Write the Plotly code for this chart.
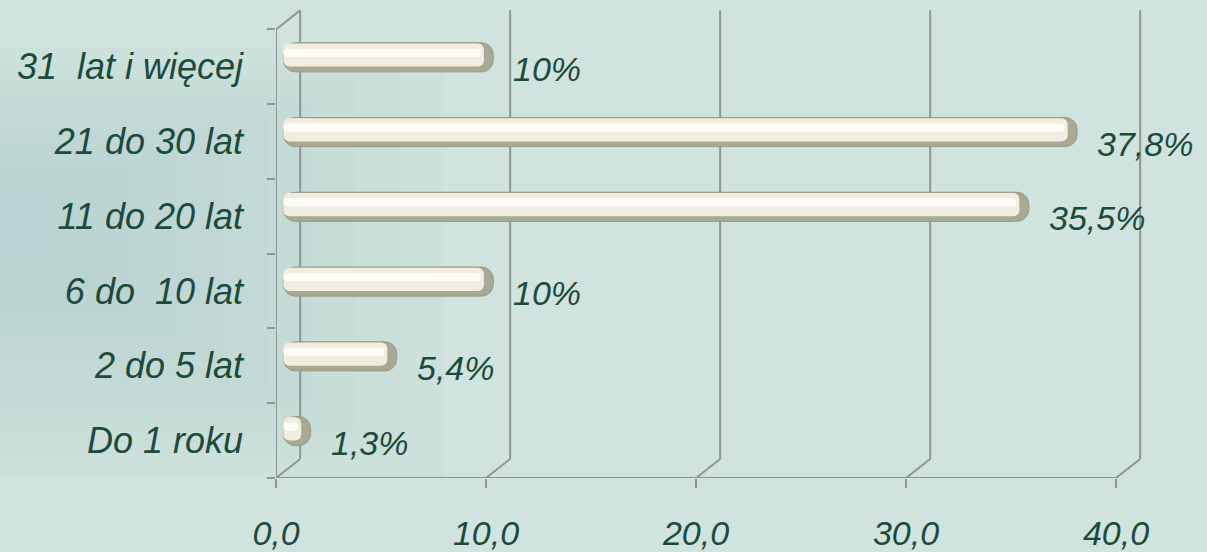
import plotly.graph_objects as go

# bottom to top, as drawn
categories = ["Do 1 roku", "2 do 5 lat", "6 do\u00a0 10 lat", "11 do 20 lat",
              "21 do 30 lat", "31\u00a0 lat i więcej"]
values = [1.3, 5.4, 10, 35.5, 37.8, 10]
x_ticks = [0, 10, 20, 30, 40]
x_tick_labels = ["0,0", "10,0", "20,0", "30,0", "40,0"]

TEXT = "#1c4a3c"
GRID = "#8e9692"
FONT = "Liberation Sans, Arial, sans-serif"

# fake 3d depth of the chart box, in axis units
DX = 1.15
DY = 0.255

BAR_W = 0.39
BODY_W = 0.31
HI_W = 0.11
BAR_START = 0.35

fig = go.Figure()

# cylinder: dark shell, bright body, highlight stripe
fig.add_trace(go.Bar(
    y=categories, x=values, base=BAR_START, orientation="h",
    width=BAR_W, offset=-BAR_W / 2 + DY / 2,
    marker=dict(color="#a9a892", line=dict(color="#9a9985", width=1), cornerradius=12),
    hoverinfo="skip",
))
fig.add_trace(go.Bar(
    y=categories, x=[v - 0.45 for v in values], base=BAR_START, orientation="h",
    width=BODY_W, offset=-BODY_W / 2 + DY / 2 + 0.03,
    marker=dict(color="#efeedf", line=dict(width=0), cornerradius=6),
    hoverinfo="skip",
))
fig.add_trace(go.Bar(
    y=categories, x=[v - 0.6 for v in values], base=BAR_START, orientation="h",
    width=HI_W, offset=-HI_W / 2 + DY / 2 + 0.06,
    marker=dict(color="#fdfdf6", line=dict(width=0), cornerradius=4),
    hoverinfo="skip",
))

shapes = []
# soft bluish shading on the left, built from nested faint rects (plot-area paper coords)
for i in range(10):
    shapes.append(dict(type="rect", xref="paper", yref="paper",
                       x0=-0.32, x1=-0.26 + 0.05 * i,
                       y0=0.45 - 0.05 * i, y1=0.6 + 0.035 * i,
                       fillcolor="#9fc0c8", opacity=0.05, line=dict(width=0), layer="below"))

line = dict(color=GRID, width=2)
bottom, top = -0.5, len(categories) - 0.5
# front floor edge and left wall
shapes.append(dict(type="line", xref="x", yref="y", x0=0, x1=x_ticks[-1], y0=bottom, y1=bottom, line=line))
shapes.append(dict(type="line", xref="x", yref="y", x0=0, x1=0, y0=bottom, y1=top, line=line))
shapes.append(dict(type="line", xref="x", yref="y", x0=0, x1=DX, y0=top, y1=top + DY, line=line))
# back wall gridlines + floor diagonals
for v in x_ticks:
    shapes.append(dict(type="line", xref="x", yref="y", x0=v + DX, x1=v + DX,
                       y0=bottom + DY, y1=top + DY, line=line, layer="below"))
    shapes.append(dict(type="line", xref="x", yref="y", x0=v, x1=v + DX,
                       y0=bottom, y1=bottom + DY, line=line, layer="below"))

annotations = []
for cat, v in zip(categories, values):
    annotations.append(dict(
        x=BAR_START + v, y=cat, xref="x", yref="y",
        text=f"{v:g}".replace(".", ",") + "%",
        showarrow=False, xanchor="left", yanchor="middle", xshift=18, yshift=-2,
        font=dict(family=FONT, size=34, color=TEXT, style="italic"),
    ))

fig.update_layout(
    width=1207,
    height=552,
    margin=dict(l=276, r=49, t=7, b=74),
    paper_bgcolor="#d0e3de",
    plot_bgcolor="rgba(0,0,0,0)",
    barmode="overlay",
    showlegend=False,
    shapes=shapes,
    annotations=annotations,
)
fig.update_xaxes(
    range=[0, 42],
    tickvals=x_ticks,
    ticktext=x_tick_labels,
    ticks="outside",
    ticklen=9,
    tickwidth=2,
    tickcolor=GRID,
    ticklabelstandoff=16,
    showgrid=False,
    zeroline=False,
    showline=False,
    automargin=False,
    tickfont=dict(family=FONT, size=34, color=TEXT, style="italic"),
)
fig.update_yaxes(
    type="category",
    categoryorder="array",
    categoryarray=categories,
    range=[-0.5, len(categories) - 0.5 + 0.3],
    tickson="boundaries",
    ticks="outside",
    ticklen=8,
    tickwidth=2,
    tickcolor=GRID,
    ticklabelstandoff=32,
    showgrid=False,
    zeroline=False,
    showline=False,
    automargin=False,
    tickfont=dict(family=FONT, size=36, color=TEXT, style="italic"),
)

fig.write_html("out.html", config={"displayModeBar": False},
               post_script="document.body.style.margin='0';")
